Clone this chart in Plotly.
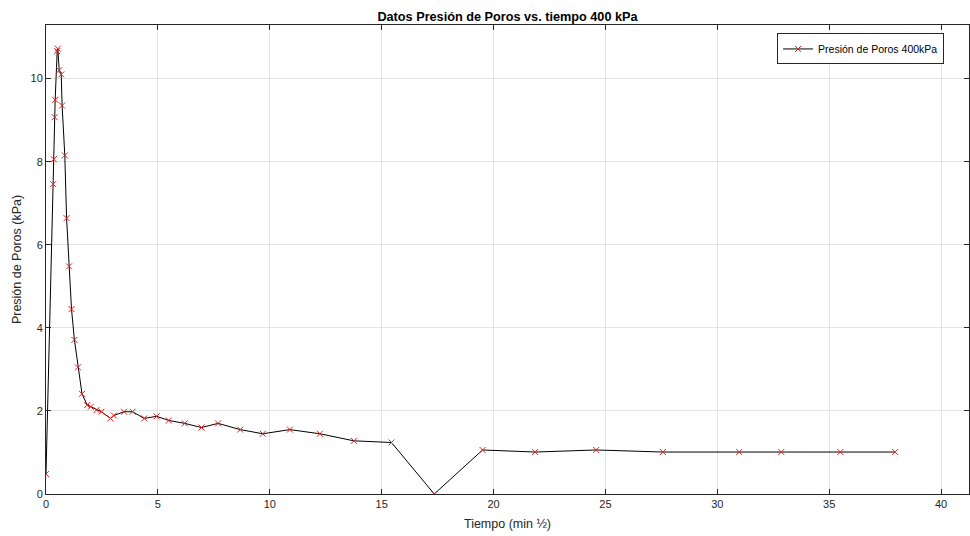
import plotly.graph_objects as go

tiempo = [0.0, 0.32, 0.35, 0.39, 0.41, 0.50, 0.53, 0.59, 0.68, 0.72, 0.84, 0.92,
          1.03, 1.14, 1.27, 1.43, 1.61, 1.84, 2.00, 2.26, 2.48, 2.88, 3.03, 3.49,
          3.87, 4.39, 4.94, 5.49, 6.20, 6.95, 7.69, 8.68, 9.69, 10.90, 12.24,
          13.76, 15.44, 17.35, 19.51, 21.86, 24.59, 27.57, 30.98, 32.86, 35.50, 37.95]
presion = [0.48, 7.46, 8.06, 9.07, 9.49, 10.66, 10.72, 10.2, 10.1, 9.35, 8.15, 6.64,
           5.48, 4.45, 3.71, 3.05, 2.41, 2.14, 2.10, 2.02, 1.98, 1.82, 1.89, 1.98,
           1.98, 1.82, 1.87, 1.77, 1.70, 1.60, 1.70, 1.55, 1.45, 1.55, 1.45,
           1.28, 1.24, 0.0, 1.06, 1.01, 1.06, 1.01, 1.01, 1.01, 1.01, 1.01]

xticks = [0, 5, 10, 15, 20, 25, 30, 35, 40]
yticks = [0, 2, 4, 6, 8, 10]

FONT = "Liberation Sans, Arial, Helvetica"

fig = go.Figure()
fig.add_trace(go.Scatter(
    x=tiempo, y=presion, mode="lines+markers",
    name="Presión de Poros 400kPa",
    line=dict(color="black", width=1),
    marker=dict(symbol="x-thin", size=6, color="#e02020",
                line=dict(color="#e02020", width=1)),
))

axis_common = dict(
    showline=True, linecolor="#262626", linewidth=1, mirror="ticks",
    ticks="inside", ticklen=5, tickcolor="#262626",
    showgrid=True, gridcolor="#e3e3e3", gridwidth=1, zeroline=False,
    automargin=False,
    tickfont=dict(family=FONT, size=11, color="#262626"),
)

fig.update_layout(
    width=970, height=536,
    margin=dict(l=46, r=1, t=25, b=42),
    paper_bgcolor="white", plot_bgcolor="white",
    title=dict(text="<b>Datos Presión de Poros vs. tiempo 400 kPa</b>",
               x=0.5, xref="paper", y=0.970, yref="container",
               yanchor="middle",
               font=dict(family=FONT, size=12.7, color="black")),
    xaxis=dict(range=[0, 41.25], tickvals=xticks,
               title=dict(text="Tiempo (min ½)", standoff=10,
                          font=dict(family=FONT, size=12.5, color="#262626")),
               **axis_common),
    yaxis=dict(range=[0, 11.29], tickvals=yticks,
               title=dict(text="Presión de Poros (kPa)", standoff=6,
                          font=dict(family=FONT, size=12.5, color="#262626")),
               **axis_common),
    showlegend=True,
    legend=dict(x=0.973, y=0.982, xanchor="right", yanchor="top",
                bgcolor="white", bordercolor="#262626", borderwidth=1,
                font=dict(family=FONT, size=10.5, color="black"),
                itemwidth=30, tracegroupgap=0),
)

fig.write_html("out.html", config={"displayModeBar": False},
               post_script="document.body.style.margin='0px';")
